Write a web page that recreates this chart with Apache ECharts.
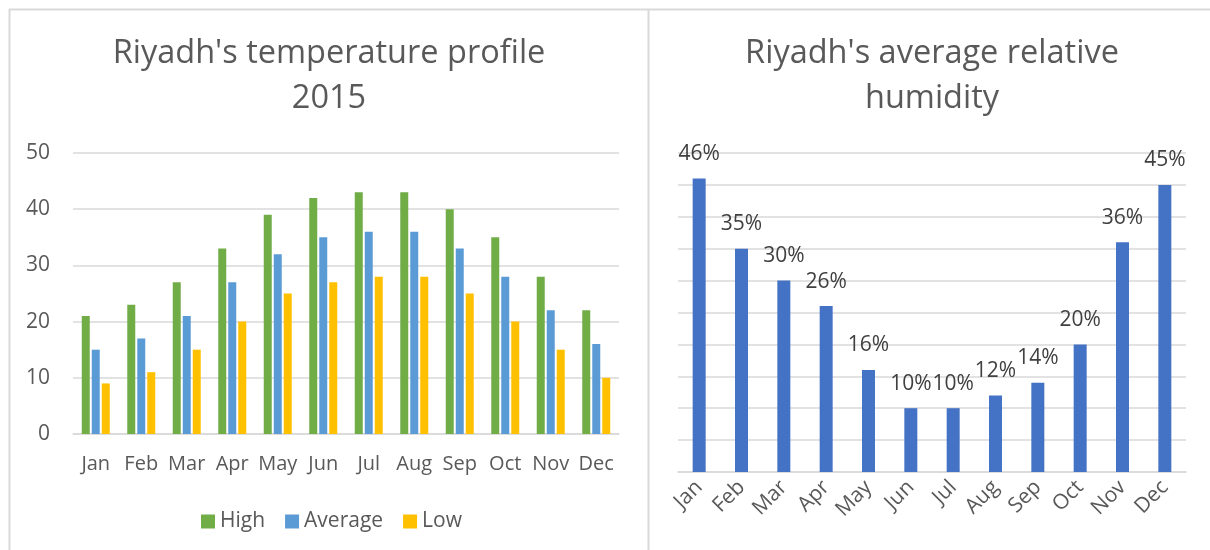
<!DOCTYPE html>
<html>
<head>
<meta charset="utf-8">
<script src="https://cdn.jsdelivr.net/npm/echarts@6/dist/echarts.min.js"></script>
<style>
  html, body { margin: 0; padding: 0; background: #fff; }
  #main { width: 1210px; height: 550px; }
</style>
</head>
<body>
<div id="main"></div>
<script>
// temperature chart data
const months = ['Jan', 'Feb', 'Mar', 'Apr', 'May', 'Jun', 'Jul', 'Aug', 'Sep', 'Oct', 'Nov', 'Dec'];
const highTemp = [21, 23, 27, 33, 39, 42, 43, 43, 40, 35, 28, 22];
const avgTemp = [15, 17, 21, 27, 32, 35, 36, 36, 33, 28, 22, 16];
const lowTemp = [9, 11, 15, 20, 25, 27, 28, 28, 25, 20, 15, 10];
// humidity chart data (fractions)
const humidity = [0.46, 0.35, 0.30, 0.26, 0.16, 0.10, 0.10, 0.12, 0.14, 0.20, 0.36, 0.45];

const FONT = '"Open Sans", sans-serif';
const TXT = '#595959';
const GRID = '#d9d9d9';

const myChart = echarts.init(document.getElementById('main'));

const tempSeries = (name, data, color) => ({
  name: name,
  type: 'bar',
  xAxisIndex: 0,
  yAxisIndex: 0,
  data: data,
  barWidth: 8,
  barGap: '25%',
  itemStyle: { color: color }
});

myChart.setOption({
  animation: false,
  textStyle: { fontFamily: FONT },
  graphic: [
    // chart frames
    { type: 'line', shape: { x1: 9, y1: 9.5, x2: 1210, y2: 9.5 }, style: { stroke: GRID, lineWidth: 2 } },
    { type: 'line', shape: { x1: 9.5, y1: 9, x2: 9.5, y2: 550 }, style: { stroke: GRID, lineWidth: 2 } },
    { type: 'line', shape: { x1: 648.5, y1: 9, x2: 648.5, y2: 550 }, style: { stroke: GRID, lineWidth: 2 } },
    // titles
    {
      type: 'text', x: 329, y: 31,
      style: {
        text: "Riyadh's temperature profile\n2015",
        align: 'center', fill: TXT, font: '32.5px ' + FONT, lineHeight: 45
      }
    },
    {
      type: 'text', x: 932, y: 31,
      style: {
        text: "Riyadh's average relative\nhumidity",
        align: 'center', fill: TXT, font: '32.5px ' + FONT, lineHeight: 45
      }
    }
  ],
  legend: {
    data: ['High', 'Average', 'Low'],
    left: 196,
    top: 506,
    icon: 'rect',
    itemWidth: 14,
    itemHeight: 14,
    itemGap: 20,
    textStyle: { color: TXT, fontSize: 21, fontFamily: FONT }
  },
  grid: [
    { left: 73, right: 591, top: 153, bottom: 116 },
    { left: 678, right: 24, top: 153, bottom: 78 }
  ],
  xAxis: [
    {
      type: 'category', gridIndex: 0, data: months,
      axisLine: { lineStyle: { color: GRID, width: 1.5 } },
      axisTick: { show: false },
      axisLabel: { color: TXT, fontSize: 20, fontFamily: FONT, margin: 20, interval: 0 }
    },
    {
      type: 'category', gridIndex: 1, data: months,
      axisLine: { lineStyle: { color: GRID, width: 1.5 } },
      axisTick: { show: false },
      axisLabel: { color: TXT, fontSize: 21, fontFamily: FONT, rotate: 45, margin: 12, interval: 0 }
    }
  ],
  yAxis: [
    {
      type: 'value', gridIndex: 0, min: 0, max: 50, interval: 10,
      axisLine: { show: false },
      axisTick: { show: false },
      splitLine: { lineStyle: { color: GRID, width: 1.5 } },
      axisLabel: { color: TXT, fontSize: 21, fontFamily: FONT, margin: 23 }
    },
    {
      type: 'value', gridIndex: 1, min: 0, max: 0.5, interval: 0.05,
      axisLine: { show: false },
      axisTick: { show: false },
      splitLine: { lineStyle: { color: GRID, width: 1.5 } },
      axisLabel: { show: false }
    }
  ],
  series: [
    tempSeries('High', highTemp, '#70ad47'),
    tempSeries('Average', avgTemp, '#5b9bd5'),
    tempSeries('Low', lowTemp, '#ffc000'),
    {
      name: 'Humidity',
      type: 'bar',
      xAxisIndex: 1,
      yAxisIndex: 1,
      data: humidity,
      barWidth: 13,
      itemStyle: { color: '#4472c4' },
      label: {
        show: true,
        position: 'top',
        distance: 14,
        color: '#404040',
        fontSize: 21,
        fontFamily: FONT,
        formatter: p => Math.round(p.value * 100) + '%'
      }
    }
  ]
});
</script>
</body>
</html>
